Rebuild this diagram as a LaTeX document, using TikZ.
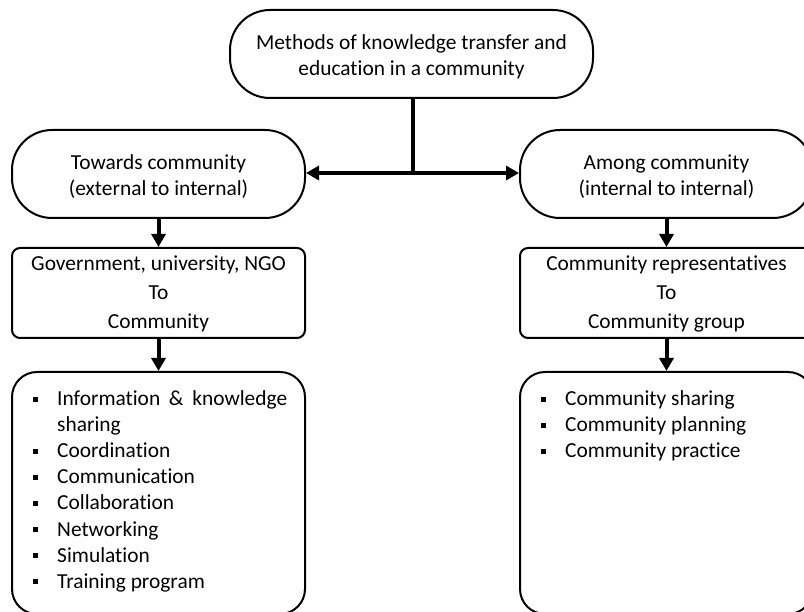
\documentclass[tikz,border=0pt]{standalone}
\usepackage{fontspec}
\setmainfont{Carlito}[Ligatures=NoCommon]
\usetikzlibrary{arrows.meta}
\begin{document}
\begin{tikzpicture}[x=1pt,y=-1pt,
  every node/.style={font=\fontsize{21.4pt}{26pt}\selectfont, inner sep=0pt, align=center},
  pill/.style={draw, line width=2pt, rounded corners=40pt, minimum height=88pt},
  rectbox/.style={draw, line width=2pt, rounded corners=8pt, minimum width=293pt, minimum height=90pt},
  listbox/.style={draw, line width=2pt, rounded corners=25pt, minimum width=293pt, minimum height=242pt},
  lbl/.style={align=center},
  rlbl/.style={align=center, font=\fontsize{21.4pt}{29pt}\selectfont},
  item/.style={anchor=base west, align=left},
  conn/.style={line width=4pt},
  arr/.style={line width=4pt, -{Triangle[length=13pt,width=14pt]}},
  darr/.style={line width=4pt, {Triangle[length=13pt,width=14pt]}-{Triangle[length=13pt,width=14pt]}}
]
\useasboundingbox (0,0) rectangle (804,612);
\clip (0,0) rectangle (804,612);

% shapes
\node[pill, minimum width=363pt] (top) at (411.5,54) {};
\node[pill, minimum width=293pt] (lp) at (158.5,174) {};
\node[pill, minimum width=293pt] (rp) at (666.5,174) {};
\node[rectbox] (lr) at (158.5,293) {};
\node[rectbox] (rr) at (666.5,293) {};
\node[listbox] (lb) at (158.5,493) {};
\node[listbox] (rb) at (666.5,493) {};

% texts
\node[lbl] (topt) at ([yshift=-3pt]top.center) {Methods of knowledge transfer and\\education in a community};
\node[lbl] (lpt) at ([yshift=-3pt]lp.center) {Towards community\\(external to internal)};
\node[lbl] (rpt) at ([yshift=-3pt]rp.center) {Among community\\(internal to internal)};
\node[rlbl] (lrt) at ([yshift=-1pt]lr.center) {Government, university, NGO\\To\\Community};
\node[rlbl] (rrt) at ([yshift=-1pt]rr.center) {Community representatives\\To\\Community group};

\newcommand{\bulitem}{\llap{\rule[3.8pt]{5.5pt}{5.5pt}\hspace{19pt}}}
\node[item] (l1) at (57,406) {\bulitem\makebox[230pt][s]{Information \& knowledge}};
\node[item] (l1b) at (57,432) {sharing};
\node[item] (l2) at (57,458) {\bulitem Coordination};
\node[item] (l3) at (57,484) {\bulitem Communication};
\node[item] (l4) at (57,510) {\bulitem Collaboration};
\node[item] (l5) at (57,536) {\bulitem Networking};
\node[item] (l6) at (57,562) {\bulitem Simulation};
\node[item] (l7) at (57,588) {\bulitem Training program};

\node[item] (r1) at (565,406) {\bulitem Community sharing};
\node[item] (r2) at (565,432) {\bulitem Community planning};
\node[item] (r3) at (565,458) {\bulitem Community practice};

% connectors
\coordinate (j) at (413,173);
\draw[conn] (top.south -| j) -- (j);
\draw[darr] (lp.east |- j) -- (rp.west |- j);
\draw[arr] (lp.south) -- (lr.north);
\draw[arr] (lr.south) -- (lb.north);
\draw[arr] (rp.south) -- (rr.north);
\draw[arr] (rr.south) -- (rb.north);
\end{tikzpicture}
\end{document}
